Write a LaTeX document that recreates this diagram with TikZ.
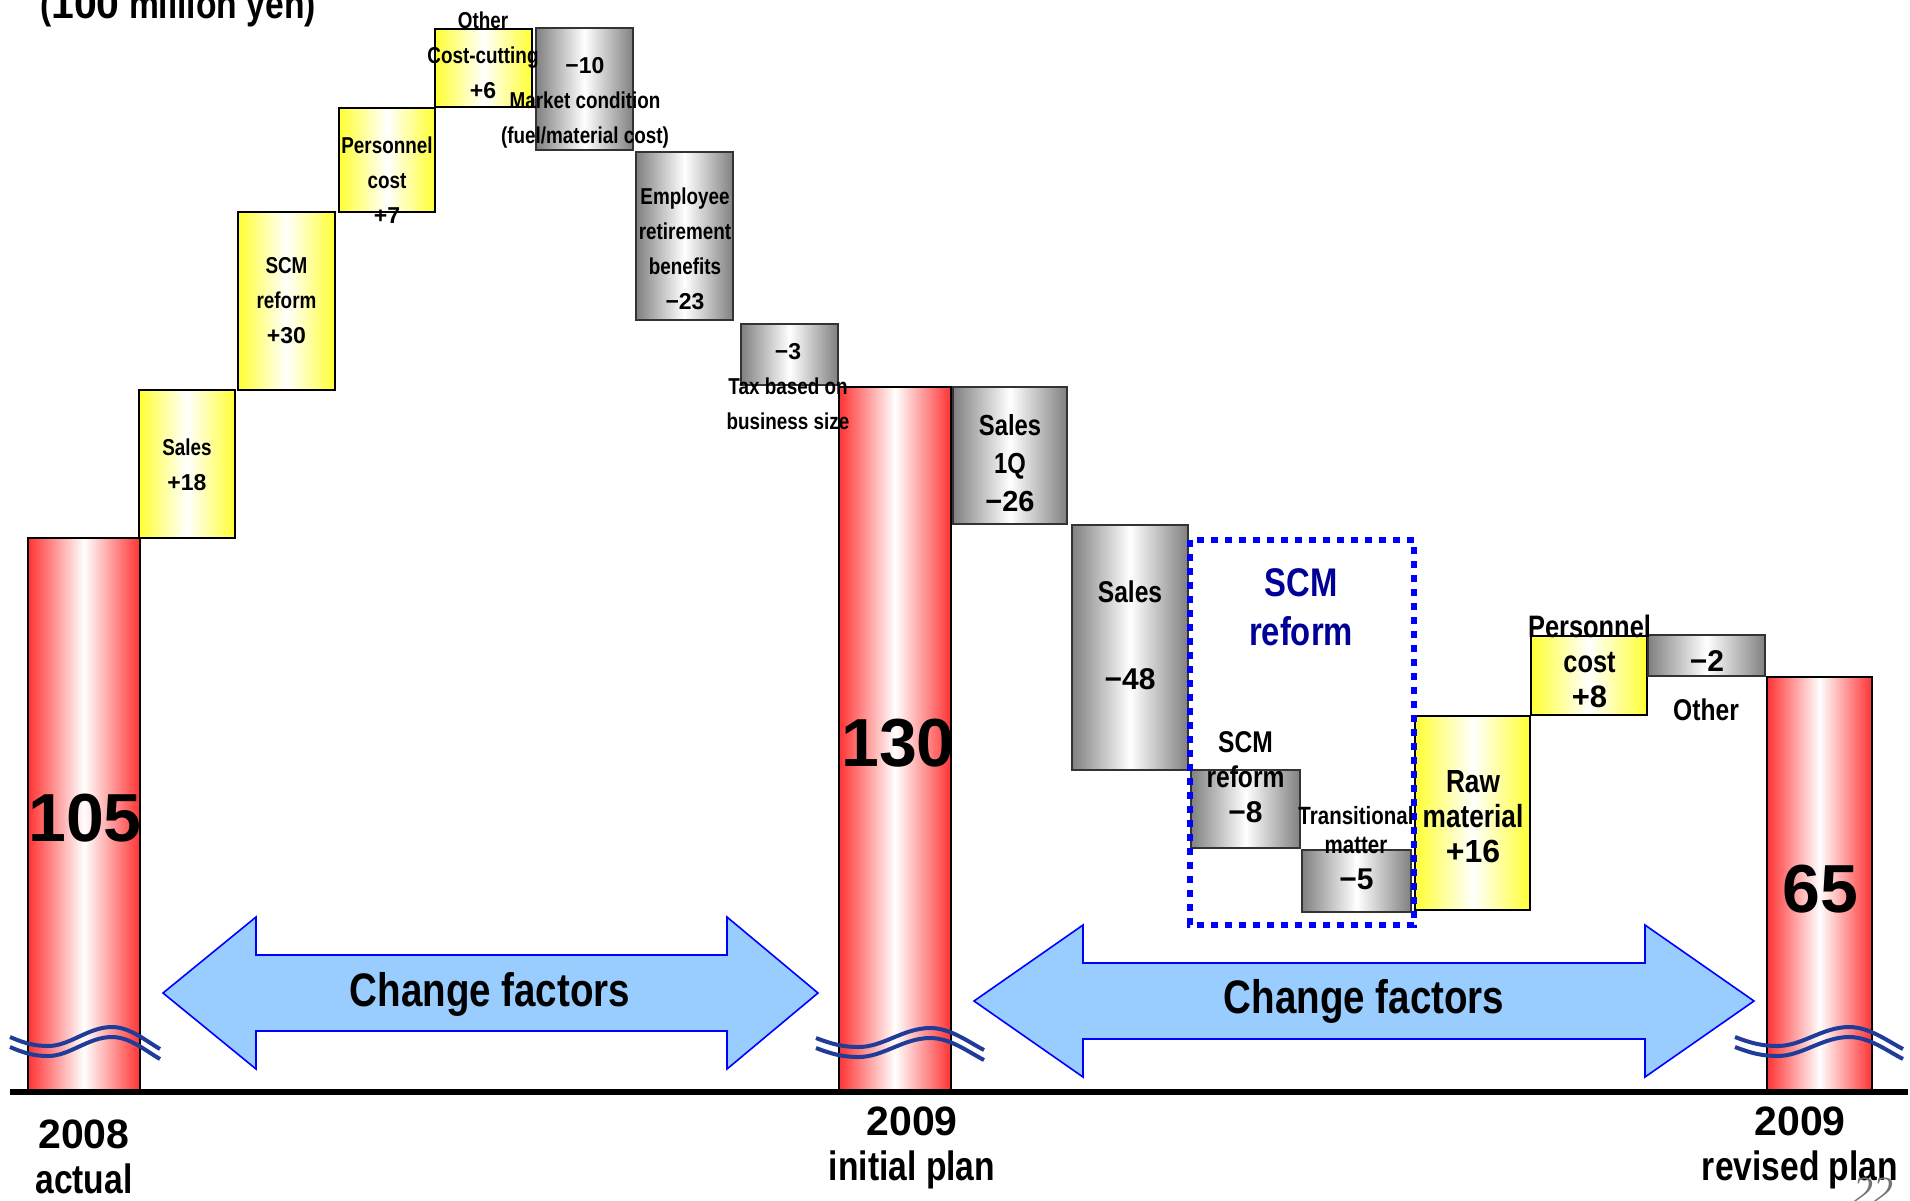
\documentclass[tikz,border=0pt]{standalone}
\usepackage{fontspec}
\setmainfont{Liberation Sans}[FakeStretch=0.82]
\newfontfamily\numfont{Liberation Sans}
\newfontfamily\pgnumfont{Liberation Serif}
\definecolor{wfred}{HTML}{FF3333}
\definecolor{wfyellow}{HTML}{FFFF33}
\definecolor{wfgray}{HTML}{808080}
\definecolor{wfnavy}{HTML}{000099}
\definecolor{wfblue}{HTML}{0000FF}
\definecolor{wfsky}{HTML}{99CCFF}
\definecolor{wfwave}{HTML}{1F3C99}

\begin{document}
\begin{tikzpicture}[x=0.5pt,y=-0.5pt,
    totalbar/.style={draw=black,line width=1pt,left color=wfred,right color=wfred,middle color=white},
    upbox/.style={draw=black,line width=1pt,left color=wfyellow,right color=wfyellow,middle color=white},
    downbox/.style={draw=black!80,line width=1pt,left color=wfgray,right color=wfgray,middle color=white},
    scmframe/.style={draw=wfblue,line width=3pt,dash pattern=on 3.5pt off 3.5pt},
    cutwave/.style={draw=wfwave,line width=2pt},
    chgarrow/.style={draw=wfblue,line width=0.8pt,fill=wfsky},
    smalllbl/.style={align=center,font=\fontsize{11.5}{17.5}\selectfont\bfseries},
    biglbl/.style={align=center,font=\fontsize{15}{18.5}\selectfont\bfseries},
    totallbl/.style={font=\fontsize{34}{40}\selectfont\numfont\bfseries},
    yearlbl/.style={align=center,font=\fontsize{20.5}{22.5}\selectfont\bfseries}]
  \path[use as bounding box,fill=white] (0,0) rectangle (1910,1200);
  % totals
  \draw[totalbar] (28,538) rectangle (140,1090);
  \draw[totalbar] (839,387) rectangle (951,1090);
  \draw[totalbar] (1767,677) rectangle (1872,1090);
  % increases
  \draw[upbox] (139,390) rectangle (235,538);
  \draw[upbox] (238,212) rectangle (335,390);
  \draw[upbox] (339,108) rectangle (435,212);
  \draw[upbox] (435,29) rectangle (532,107);
  \draw[upbox] (1415,716) rectangle (1530,910);
  \draw[upbox] (1531,636) rectangle (1647,715);
  % decreases
  \draw[downbox] (536,28) rectangle (633,150);
  \draw[downbox] (636,152) rectangle (733,320);
  \draw[downbox] (741,324) rectangle (838,385);
  \draw[downbox] (953,387) rectangle (1067,524);
  \draw[downbox] (1072,525) rectangle (1188,770);
  \draw[downbox] (1191,770) rectangle (1300,848);
  \draw[downbox] (1302,850) rectangle (1411,912);
  \draw[downbox] (1648,635) rectangle (1765,676);
  \draw[scmframe] (1190,540) rectangle (1414,925);
  % break marks
  \foreach \wx/\wy/\ws in {10/1037/1,816/1038/1.12,1735/1037/1.12}
    \foreach \dy in {0,10}
      \draw[cutwave,shift={(\wx,\wy+\dy)},xscale=\ws] (0,0) .. controls (14,6) and (24,9) .. (38,9)
        .. controls (60,9) and (78,-10) .. (102,-10) .. controls (120,-10) and (136,4) .. (150,12);
  \draw[line width=3pt] (10,1092) -- (1908,1092);
  % change factor arrows
  \draw[chgarrow] (163,993) -- (256,917) -- (256,955) -- (727,955) -- (727,917) -- (818,993)
    -- (727,1069) -- (727,1031) -- (256,1031) -- (256,1069) -- cycle;
  \draw[chgarrow] (974,1001) -- (1083,925) -- (1083,963) -- (1645,963) -- (1645,925) -- (1754,1001)
    -- (1645,1077) -- (1645,1039) -- (1083,1039) -- (1083,1077) -- cycle;
  \node[font=\fontsize{23.5}{28}\selectfont\bfseries] (chg1) at (490,994) {Change factors};
  \node[font=\fontsize{23.5}{28}\selectfont\bfseries] (chg2) at (1364,1001) {Change factors};
  % labels
  \node[anchor=base west,font=\fontsize{20.5}{24}\selectfont\bfseries] (unit) at (33,18) {({\numfont 100} million yen)};
  \node[smalllbl] (sales1) at (187,464.5) {Sales\\{\numfont +18}};
  \node[smalllbl] (scm1) at (286.5,301) {SCM\\reform\\{\numfont +30}};
  \node[smalllbl] (pers1) at (387,180) {Personnel\\cost\\{\numfont +7}};
  \node[smalllbl] (cost1) at (483,55) {Other\\Cost-cutting\\{\numfont +6}};
  \node[smalllbl] (mkt1) at (585,103) {{\numfont −10}\\Market condition\\(fuel/material cost)};
  \node[smalllbl] (emp1) at (685,248.5) {Employee\\retirement\\benefits\\{\numfont −23}};
  \node[smalllbl] (tax1) at (788,387) {{\numfont −3}\\Tax based on\\business size};
  \node[biglbl,font=\fontsize{14.5}{19}\selectfont\bfseries] (sales2) at (1010,463) {Sales\\1Q\\{\numfont −26}};
  \node[biglbl] (sales3) at (1130,635.5) {Sales\\[25pt]{\numfont −48}};
  \node[align=center,text=wfnavy,font=\fontsize{20}{24.5}\selectfont\bfseries] (scmttl) at (1301,607.5) {SCM\\reform};
  \node[biglbl,font=\fontsize{15}{17.5}\selectfont\bfseries] (scm2) at (1245.5,777) {SCM\\reform\\{\numfont −8}};
  \node[align=center,font=\fontsize{12.5}{14.5}\selectfont\bfseries] (trans2) at (1356,830.5) {Transitional\\matter};
  \node[biglbl] (trans2v) at (1356.5,879.5) {\numfont −5};
  \node[biglbl,font=\fontsize{16}{17.5}\selectfont\bfseries] (raw2) at (1473,817) {Raw\\material\\{\numfont +16}};
  \node[biglbl,font=\fontsize{15.5}{17.5}\selectfont\bfseries] (pers2) at (1589.5,661) {Personnel\\cost\\{\numfont +8}};
  \node[biglbl] (oth2v) at (1707,661) {\numfont −2};
  \node[biglbl] (oth2) at (1706,710) {Other};
  \node[totallbl] (tot105) at (85,818.5) {105};
  \node[totallbl] (tot130) at (898,743) {130};
  \node[totallbl] (tot65) at (1820,889) {65};
  \node[yearlbl] (yr08) at (84,1157) {{\numfont 2008}\\actual};
  \node[yearlbl] (yr09a) at (912,1148) {{\numfont 2009}\\initial plan};
  \node[yearlbl] (yr09b) at (1800,1148) {{\numfont 2009}\\revised plan};
  \node[anchor=base,text=black!55,font=\fontsize{20}{24}\selectfont\pgnumfont\itshape] (pgno) at (1873,1204) {22};
\end{tikzpicture}
\end{document}
